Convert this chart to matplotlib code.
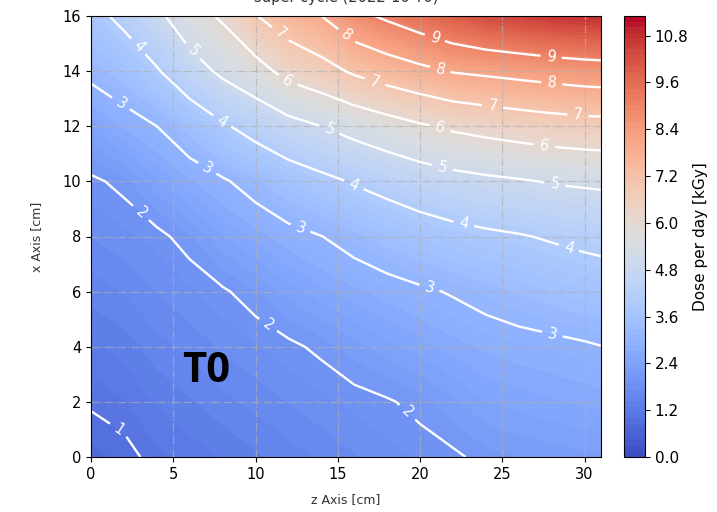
import matplotlib
matplotlib.use("Agg")
import matplotlib.pyplot as plt
import numpy as np

# grid (z along columns, x along rows)
z_cm = [0, 2, 4, 6, 8, 10, 12, 14, 16, 18, 20, 22, 24, 26, 28, 30, 31]
x_cm = [0, 2, 4, 6, 8, 10, 12, 14, 16]

# dose per day [kGy], one row per x value
dose = [
    [0.80, 0.90, 1.10, 1.20, 1.30, 1.40, 1.50, 1.60, 1.70, 1.80, 1.88, 1.95, 2.08, 2.15, 2.20, 2.25, 2.27],
    [1.04, 1.13, 1.31, 1.41, 1.52, 1.62, 1.72, 1.81, 1.90, 1.97, 2.08, 2.25, 2.42, 2.49, 2.55, 2.60, 2.63],
    [1.26, 1.35, 1.51, 1.62, 1.74, 1.84, 1.94, 2.06, 2.22, 2.37, 2.50, 2.64, 2.75, 2.82, 2.87, 2.94, 2.99],
    [1.49, 1.58, 1.72, 1.83, 1.96, 2.13, 2.34, 2.52, 2.67, 2.80, 2.92, 3.04, 3.18, 3.31, 3.43, 3.53, 3.57],
    [1.72, 1.81, 1.92, 2.12, 2.41, 2.63, 2.83, 2.99, 3.21, 3.41, 3.59, 3.74, 3.86, 3.95, 4.07, 4.19, 4.24],
    [1.94, 2.08, 2.39, 2.68, 2.93, 3.23, 3.55, 3.80, 4.06, 4.28, 4.51, 4.70, 4.83, 4.93, 5.05, 5.11, 5.14],
    [2.45, 2.73, 3.00, 3.43, 3.90, 4.31, 4.70, 5.00, 5.31, 5.61, 5.90, 6.14, 6.30, 6.44, 6.56, 6.65, 6.67],
    [3.16, 3.45, 3.93, 4.58, 5.18, 5.65, 6.30, 6.65, 7.13, 7.49, 7.78, 8.05, 8.17, 8.29, 8.41, 8.52, 8.55],
    [3.75, 4.20, 4.79, 5.60, 6.13, 6.96, 7.55, 8.00, 8.75, 9.15, 9.55, 9.95, 10.30, 10.50, 10.70, 10.80, 10.85],
]

line_levels = [1, 2, 3, 4, 5, 6, 7, 8, 9]
cbar_ticks = [0.0, 1.2, 2.4, 3.6, 4.8, 6.0, 7.2, 8.4, 9.6, 10.8]
dose_max = 11.3

# where the contour labels sit (z, x)
label_spots = [
    (1.8, 1.1),
    (3.4, 9.1), (11.0, 5.0), (19.5, 1.8),
    (1.9, 12.9), (7.2, 10.6), (12.8, 8.4), (20.6, 6.2), (28.1, 4.6),
    (2.7, 14.8), (8.0, 12.2), (16.0, 9.9), (22.7, 8.6), (29.1, 7.7),
    (6.0, 14.6), (14.5, 11.9), (21.4, 10.6), (28.2, 9.9),
    (11.9, 13.6), (21.2, 11.9), (27.6, 11.4),
    (11.3, 15.2), (17.2, 13.5), (24.4, 12.7), (29.6, 12.4),
    (15.3, 15.1), (21.2, 14.0), (28.0, 13.5),
    (20.9, 15.2), (28.0, 14.7),
]

Z, X = np.meshgrid(z_cm, x_cm)
D = np.array(dose)

fig = plt.figure(figsize=(7.17, 5.12), dpi=100)
ax = fig.add_axes([91 / 717, 55 / 512, 510 / 717, 441 / 512])
cax = fig.add_axes([624 / 717, 55 / 512, 21 / 717, 441 / 512])

cf = ax.contourf(Z, X, D, levels=np.linspace(0, dose_max, 80), cmap='coolwarm')
cs = ax.contour(Z, X, D, levels=line_levels, colors='white', linewidths=1.7)
ax.clabel(cs, line_levels, inline=True, fmt='%d', fontsize=10.5, colors='white',
          manual=label_spots, inline_spacing=6)

ax.set_xlim(0, 31)
ax.set_ylim(0, 16)
ax.set_xticks([0, 5, 10, 15, 20, 25, 30])
ax.set_yticks([0, 2, 4, 6, 8, 10, 12, 14, 16])
ax.tick_params(labelsize=10.5)
ax.grid(True, linestyle='-.', color='#b0b0b0', linewidth=0.9, alpha=0.7)
ax.set_xlabel('z Axis [cm]', fontsize=9, color='#333333', labelpad=8)
ax.set_ylabel('x Axis [cm]', fontsize=9, color='#333333', labelpad=14)

ax.text(7.0, 3.1, 'T0', fontsize=30, fontweight='bold', family='Open Sans',
        ha='center', va='center', color='black')

fig.text(346 / 717, 1 - 2 / 512, 'super cycle (2022-10 T0)', fontsize=10.5,
         color='#333333', ha='center', va='baseline')

cb = fig.colorbar(cf, cax=cax, ticks=cbar_ticks)
cb.ax.set_yticklabels(['%.1f' % t for t in cbar_ticks])
cb.ax.tick_params(labelsize=11)
cb.set_label('Dose per day [kGy]', fontsize=11, labelpad=3)

fig.savefig('out.png', dpi=100)
